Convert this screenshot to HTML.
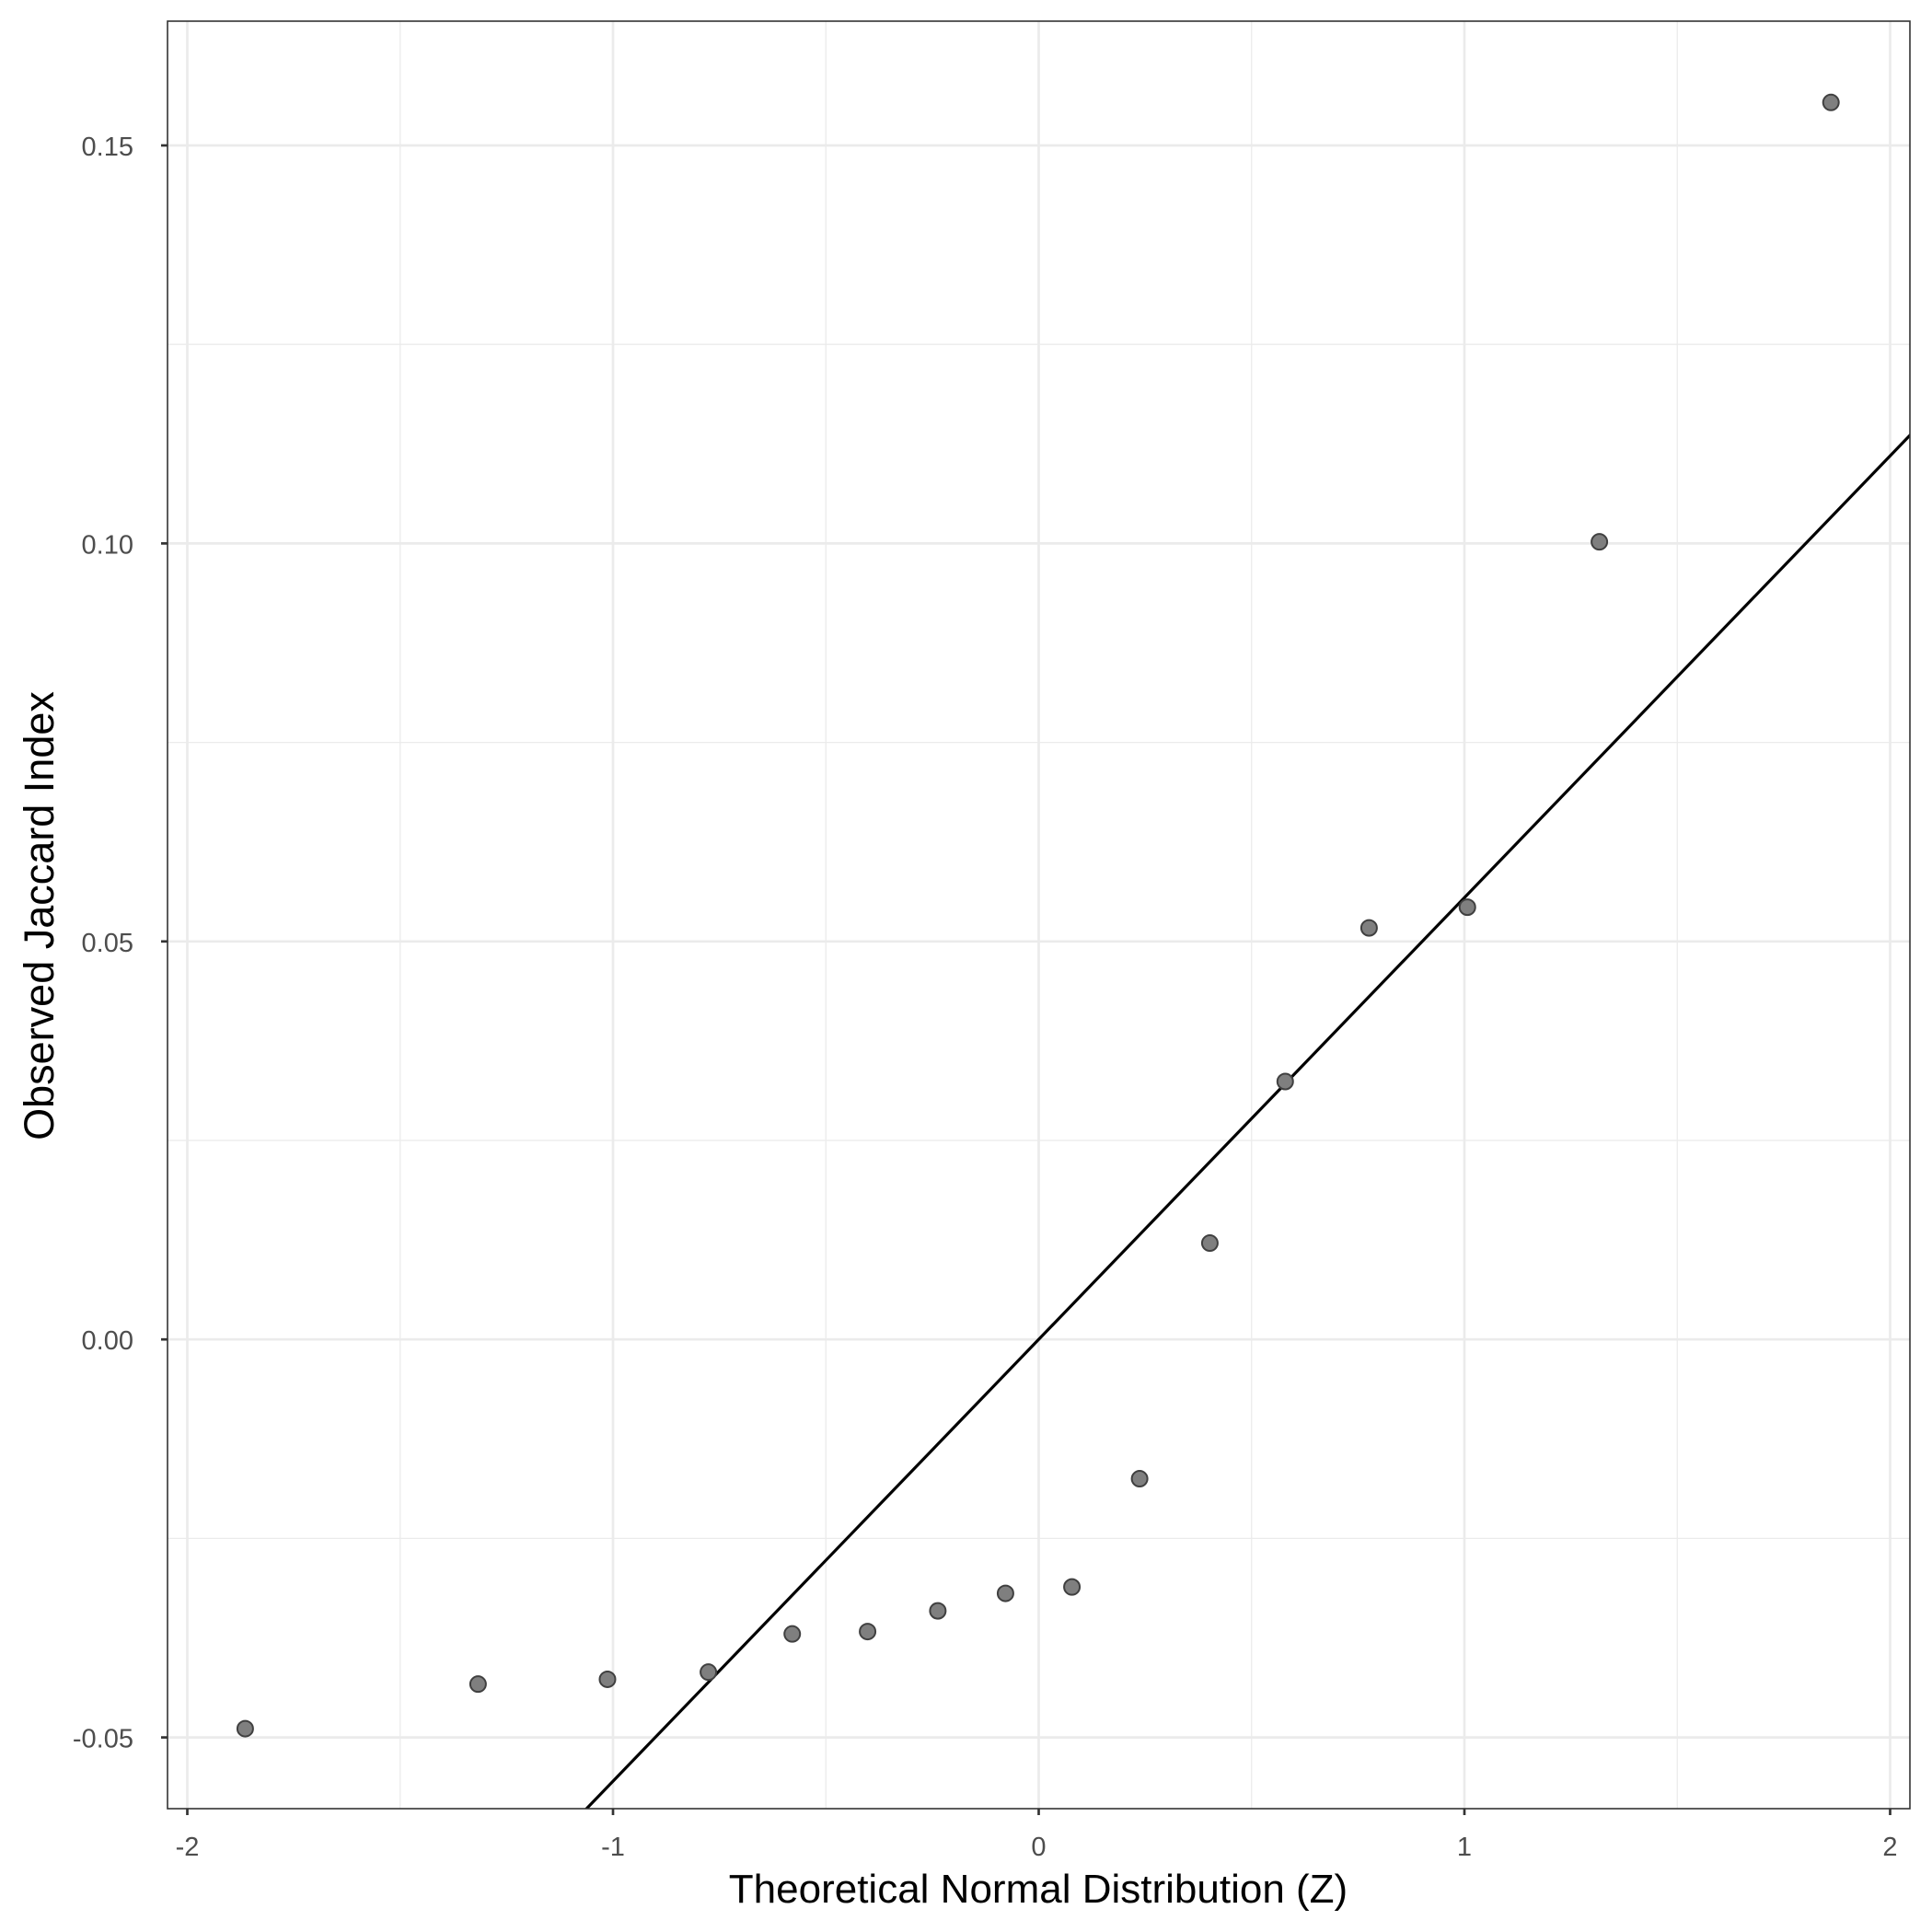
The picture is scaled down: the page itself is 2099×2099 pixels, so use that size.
<!DOCTYPE html>
<html><head><meta charset="utf-8"><style>
html,body{margin:0;background:#fff;overflow:hidden;width:2099px;height:2099px}
svg{display:block;font-family:"Liberation Sans",sans-serif}
</style></head><body>
<svg id="chart" width="2099" height="2099" viewBox="0 0 2099 2099">
<defs><clipPath id="clip"><rect x="182" y="23" width="1893" height="1942"/></clipPath></defs>
<rect x="0" y="0" width="2099" height="2099" fill="#fff"/>
<g id="grid"></g>
<g id="line" clip-path="url(#clip)"></g>
<g id="pts"></g>
<rect x="182" y="23" width="1893" height="1942" fill="none" stroke="#333" stroke-width="1.6"/>
<g id="axes"></g>
<text x="1128" y="2067" font-size="44" text-anchor="middle" fill="#000">Theoretical Normal Distribution (Z)</text>
<text transform="translate(58,995) rotate(-90)" font-size="45" text-anchor="middle" fill="#000">Observed Jaccard Index</text>
</svg>
<script>
const xVals=[-1.864,-1.317,-1.013,-0.776,-0.579,-0.402,-0.237,-0.078,0.078,0.237,0.402,0.579,0.776,1.007,1.317,1.861];
const yVals=[-0.0489,-0.0433,-0.0427,-0.0418,-0.0370,-0.0367,-0.0341,-0.0319,-0.0311,-0.0175,0.0121,0.0324,0.0517,0.0543,0.1002,0.1554];
const xTicks=[-2,-1,0,1,2];
const xTickLabels=["-2","-1","0","1","2"];
const yTicks=[-0.05,0,0.05,0.10,0.15];
const yTickLabels=["-0.05","0.00","0.05","0.10","0.15"];
const xMinor=[-1.5,-0.5,0.5,1.5];
const yMinor=[-0.025,0.025,0.075,0.125];
const lineSlope=[0.0555];
const lineIntercept=[0];
const L=182,R=2075,T=23,B=1965;
const sx=v=>1128.5+v*462.5;
const sy=v=>1455.2-v*8648;
const NS="http://www.w3.org/2000/svg";
function mk(tag,attrs,parent){const e=document.createElementNS(NS,tag);for(const k in attrs)e.setAttribute(k,attrs[k]);parent.appendChild(e);return e;}
const grid=document.getElementById('grid'),axes=document.getElementById('axes'),pts=document.getElementById('pts'),lg=document.getElementById('line');
xMinor.forEach(v=>{const e=mk('line',{x1:sx(v),x2:sx(v),y1:T,y2:B,stroke:'#ebebeb','stroke-width':1.3},grid);

});
yMinor.forEach(v=>{const e=mk('line',{x1:L,x2:R,y1:sy(v),y2:sy(v),stroke:'#ebebeb','stroke-width':1.3},grid);

});
xTicks.forEach((v,i)=>{const g=mk('line',{x1:sx(v),x2:sx(v),y1:T,y2:B,stroke:'#ebebeb','stroke-width':2.7},grid);


const t=mk('line',{x1:sx(v),x2:sx(v),y1:B,y2:B+7,stroke:'#333','stroke-width':2.7},axes);


const l=mk('text',{x:sx(v),y:B+51,'font-size':29,'text-anchor':'middle',fill:'#4d4d4d'},axes);l.textContent=xTickLabels[i];

});
yTicks.forEach((v,i)=>{const g=mk('line',{x1:L,x2:R,y1:sy(v),y2:sy(v),stroke:'#ebebeb','stroke-width':2.7},grid);


const t=mk('line',{x1:L-7,x2:L,y1:sy(v),y2:sy(v),stroke:'#333','stroke-width':2.7},axes);


const l=mk('text',{x:L-37,y:sy(v)+11,'font-size':29,'text-anchor':'end',fill:'#4d4d4d'},axes);l.textContent=yTickLabels[i];

});
const x0=-3,x1=3;
const ln=mk('line',{x1:sx(x0),y1:sy(lineIntercept[0]+lineSlope[0]*x0),x2:sx(x1),y2:sy(lineIntercept[0]+lineSlope[0]*x1),stroke:'#000','stroke-width':3.2},lg);


xVals.forEach((v,i)=>{const c=mk('circle',{cx:sx(v),cy:sy(yVals[i]),r:8.5,fill:'#7f7f7f',stroke:'#404040','stroke-width':2},pts);

});
</script>
</body></html>
